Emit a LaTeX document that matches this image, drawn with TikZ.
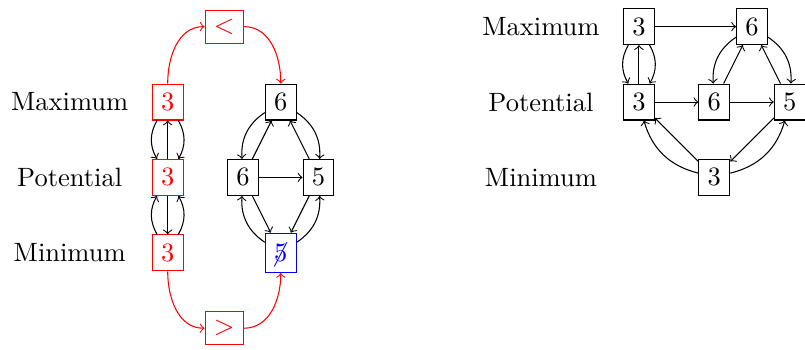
\documentclass[tikz,border=0pt]{standalone}
\begin{document}
\begin{tikzpicture}[
  box/.style={draw},
  redbox/.style={draw=red,text=red},
  bluebox/.style={draw=blue,text=blue,minimum height=14.8pt},
  lab/.style={}]
\useasboundingbox (-2.224,-3.276) rectangle (8.452,1.353);
% left labels
\node[lab] (lmax) at (-1.3,0) {Maximum};
\node[lab] (lpot) at (-1.3,-1) {Potential};
\node[lab] (lmin) at (-1.3,-2) {Minimum};
% left red column
\node[redbox] (r1) at (0,0) {3};
\node[redbox] (r2) at (0,-1) {3};
\node[redbox] (r3) at (0,-2) {3};
\node[redbox] (lt) at (0.75,1) {$<$};
\node[redbox] (gt) at (0.75,-3) {$>$};
% left diamond
\node[box] (a6) at (1.5,0) {6};
\node[box] (b6) at (1,-1) {6};
\node[box] (c5) at (2,-1) {5};
\node[bluebox] (d5) at (1.5,-2) {\makebox[0pt][l]{\kern-1.4pt\smash{$\not$}}5};
% left edges
\draw[->] (r1) to[bend right] (r2);
\draw[->] (r1) to[bend left] (r2);
\draw[->] (r2) -- (r1);
\draw[->] (r3) to[bend left] (r2);
\draw[->] (r3) to[bend right] (r2);
\draw[->] (r2) -- (r3);
\draw[->,red] (r1) to[out=90,in=180] (lt);
\draw[->,red] (lt) to[out=0,in=90] (a6);
\draw[->,red] (r3) to[out=-90,in=180] (gt);
\draw[->,red] (gt) to[out=0,in=-90] (d5);
\draw[->] (a6) to[bend right] (b6);
\draw[->] (b6) -- (a6);
\draw[->] (a6) to[bend left] (c5);
\draw[->] (c5) -- (a6);
\draw[->] (b6) -- (c5);
\draw[->] (b6) -- (d5);
\draw[->] (d5) to[bend left] (b6);
\draw[->] (c5) -- (d5);
\draw[->] (d5) to[bend right] (c5);
% right labels
\node[lab] (rmax) at (4.95,1) {Maximum};
\node[lab] (rpot) at (4.95,0) {Potential};
\node[lab] (rmin) at (4.95,-1) {Minimum};
% right nodes
\node[box] (s1) at (6.25,1) {3};
\node[box] (s2) at (6.25,0) {3};
\node[box] (t1) at (7.75,1) {6};
\node[box] (t2) at (7.25,0) {6};
\node[box] (u) at (8.25,0) {5};
\node[box] (v) at (7.25,-1) {3};
% right edges
\draw[->] (s1) to[bend right] (s2);
\draw[->] (s1) to[bend left] (s2);
\draw[->] (s2) -- (s1);
\draw[->] (s1) -- (t1);
\draw[->] (s2) -- (t2);
\draw[->] (t2) -- (u);
\draw[->] (t1) to[bend right] (t2);
\draw[->] (t2) -- (t1);
\draw[->] (t1) to[bend left] (u);
\draw[->] (u) -- (t1);
\draw[->] (v) to[bend left] (s2);
\draw[->] (v) -- (s2);
\draw[->] (u) -- (v);
\draw[->] (v) to[bend right] (u);
\end{tikzpicture}
\end{document}
